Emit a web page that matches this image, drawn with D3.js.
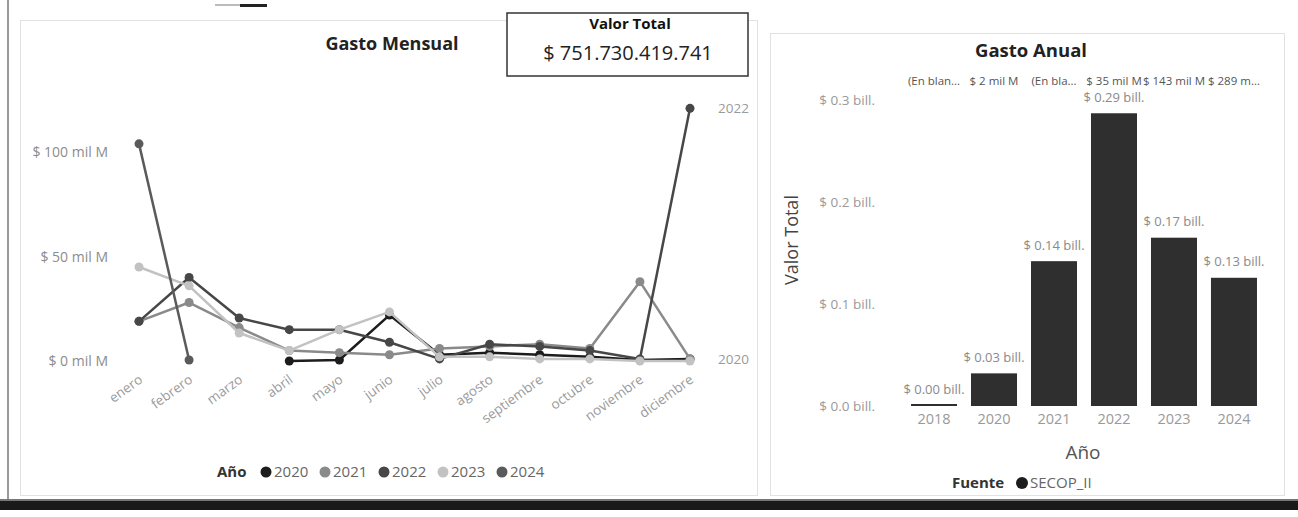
<!DOCTYPE html>
<html><head><meta charset="utf-8">
<script src="https://cdn.jsdelivr.net/npm/d3@7"></script>
<style>
html,body{margin:0;padding:0;background:#fff;}
svg{display:block;font-family:"Open Sans","Noto Sans",sans-serif;}
</style></head>
<body>
<svg id="c" width="1298" height="517"></svg>
<script>
// ---------- data ----------
const months = ["enero","febrero","marzo","abril","mayo","junio","julio","agosto","septiembre","octubre","noviembre","diciembre"];
const years = ["2020","2021","2022","2023","2024"];
const gasto2020 = [null,null,null,0,0.5,22,3,4,3,2,0.5,1];
const gasto2021 = [19,28,16,5,4,3,6,7,8,6,38,1];
const gasto2022 = [19,40,20.6,15,15,9,1,8,7,5,1,121];
const gasto2023 = [45,36,13.4,5,15,23.5,2,2,1,1,0,0];
const gasto2024 = [104,0.5,null,null,null,null,null,null,null,null,null,null];
const yearColors = ["#1c1c1c","#8a8a8a","#474747","#c2c2c2","#5a5a5a"];
const lineTicks = [0,50,100];
const endLabels = ["2022","2020"];

const annualYears = ["2018","2020","2021","2022","2023","2024"];
const annualValues = [0.0003,0.032,0.142,0.287,0.165,0.1257];
const annualLabels = ["$ 0.00 bill.","$ 0.03 bill.","$ 0.14 bill.","$ 0.29 bill.","$ 0.17 bill.","$ 0.13 bill."];
const topLabels = ["(En blan...","$ 2 mil M","(En bla...","$ 35 mil M","$ 143 mil M","$ 289 m..."];
const barTicks = [0,0.1,0.2,0.3];
const totalValue = "$ 751.730.419.741";

const series = [gasto2020,gasto2021,gasto2022,gasto2023,gasto2024];

const svg = d3.select("#c");

// page frame decorations
svg.append("rect").attr("x",7).attr("y",0).attr("width",2).attr("height",500).attr("fill","#9a9a9a");
svg.append("rect").attr("x",0).attr("y",501).attr("width",1298).attr("height",9).attr("fill","#1a1a1a");
svg.append("rect").attr("x",0).attr("y",499).attr("width",1298).attr("height",2).attr("fill","#777");
svg.append("rect").attr("x",215).attr("y",4).attr("width",25).attr("height",2).attr("fill","#bbb");
svg.append("rect").attr("x",240).attr("y",4).attr("width",27).attr("height",3).attr("fill","#222");

// panels
svg.append("rect").attr("x",20.5).attr("y",20.5).attr("width",737).attr("height",475)
  .attr("fill","none").attr("stroke","#e2e2e2");
svg.append("rect").attr("x",770.5).attr("y",33.5).attr("width",514).attr("height",462)
  .attr("fill","none").attr("stroke","#e2e2e2");

// ---------- line chart ----------
const x = d3.scalePoint().domain(months).range([139,690]);
const y = d3.scaleLinear().domain([0,125]).range([361,100]);

svg.append("text").attr("x",392).attr("y",50).attr("text-anchor","middle")
  .attr("font-size",18).attr("font-weight","bold").attr("fill","#222").text("Gasto Mensual");

const gy = svg.append("g").attr("transform","translate(108,0)")
  .call(d3.axisLeft(y).tickValues(lineTicks).tickSize(0).tickPadding(0).tickFormat(d=>"$ "+d+" mil M"));
gy.select(".domain").remove();
gy.selectAll("text").attr("font-size",14).attr("fill","#8c8c8c").attr("font-family","Open Sans");

const gx = svg.append("g").attr("transform","translate(0,376)")
  .call(d3.axisBottom(x).tickSize(0).tickPadding(0));
gx.select(".domain").remove();
gx.selectAll("text").attr("font-size",13.5).attr("fill","#9a9a9a").attr("font-family","Open Sans")
  .attr("text-anchor","end").attr("dy","0.5em").attr("transform","rotate(-36)");

const line = d3.line().defined(d=>d!=null).x((d,i)=>x(months[i])).y(d=>y(d));
series.forEach((s,k)=>{
  const pts = s.map((v,i)=>({v,i})).filter(p=>p.v!=null);
  svg.append("path").attr("d",line(s)).attr("fill","none")
    .attr("stroke",yearColors[k]).attr("stroke-width",2.5).attr("stroke-linejoin","round");
  svg.selectAll(null).data(pts).enter().append("circle")
    .attr("cx",p=>x(months[p.i])).attr("cy",p=>y(p.v)).attr("r",4.5).attr("fill",yearColors[k]);
});
endLabels.forEach(lbl=>{
  const k = years.indexOf(lbl);
  const s = series[k];
  let last = s.length-1; while(s[last]==null) last--;
  svg.append("text").attr("x",x(months[last])+28).attr("y",y(s[last])).attr("dy","0.35em")
    .attr("font-size",13.5).attr("fill","#9a9a9a").text(lbl);
});

// legend
const lg = svg.append("g").attr("transform","translate(217,472)");
lg.append("text").attr("x",0).attr("y",0).attr("dy","0.35em").attr("font-size",15).attr("font-weight","bold").attr("fill","#333").text("Año");
let lx = 49;
years.forEach((yr,k)=>{
  lg.append("circle").attr("cx",lx).attr("cy",0).attr("r",5.5).attr("fill",yearColors[k]);
  lg.append("text").attr("x",lx+8).attr("y",0).attr("dy","0.35em").attr("font-size",15).attr("fill","#666").text(yr);
  lx += 59;
});

// total card
svg.append("rect").attr("x",507).attr("y",13).attr("width",241).attr("height",63)
  .attr("fill","#fff").attr("stroke","#333").attr("stroke-width",1.5);
svg.append("text").attr("x",630).attr("y",24).attr("dy","0.35em").attr("text-anchor","middle")
  .attr("font-size",15).attr("font-weight","bold").attr("fill","#111").text("Valor Total");
svg.append("text").attr("x",628).attr("y",53).attr("dy","0.35em").attr("text-anchor","middle")
  .attr("font-size",20).attr("fill","#222").text(totalValue);

// ---------- bar chart ----------
const xb = d3.scaleBand().domain(annualYears).range([904,1264]).paddingInner(0.233).paddingOuter(0.117);
const yb = d3.scaleLinear().domain([0,0.3]).range([406,100]);

svg.append("text").attr("x",1031).attr("y",57).attr("text-anchor","middle")
  .attr("font-size",18.5).attr("font-weight","bold").attr("fill","#222").text("Gasto Anual");

const gyb = svg.append("g").attr("transform","translate(875,0)")
  .call(d3.axisLeft(yb).tickValues(barTicks).tickSize(0).tickPadding(0).tickFormat(d=>"$ "+d3.format(".1f")(d)+" bill."));
gyb.select(".domain").remove();
gyb.selectAll("text").attr("font-size",13.5).attr("fill","#999").attr("font-family","Open Sans");

const gxb = svg.append("g").attr("transform","translate(0,414)")
  .call(d3.axisBottom(xb).tickSize(0).tickPadding(0));
gxb.select(".domain").remove();
gxb.selectAll("text").attr("font-size",14.5).attr("fill","#9a9a9a").attr("font-family","Open Sans").attr("dy","0.7em");

svg.selectAll(null).data(annualValues).enter().append("rect")
  .attr("x",(d,i)=>xb(annualYears[i])).attr("width",xb.bandwidth())
  .attr("y",d=>Math.min(yb(d),yb(0)-2)).attr("height",d=>Math.max(yb(0)-yb(d),2))
  .attr("fill","#2f2f2f");

svg.selectAll(null).data(annualValues).enter().append("text")
  .attr("x",(d,i)=>xb(annualYears[i])+xb.bandwidth()/2).attr("y",d=>yb(d)-16).attr("dy","0.35em")
  .attr("text-anchor","middle").attr("font-size",13).attr("fill","#8a8a8a")
  .text((d,i)=>annualLabels[i]);

svg.selectAll(null).data(topLabels).enter().append("text")
  .attr("x",(d,i)=>xb(annualYears[i])+xb.bandwidth()/2).attr("y",81).attr("dy","0.35em")
  .attr("text-anchor","middle").attr("font-size",11.5).attr("fill","#555")
  .text(d=>d);

svg.append("text").attr("transform","translate(798,240) rotate(-90)").attr("text-anchor","middle")
  .attr("font-size",18).attr("fill","#444").text("Valor Total");
svg.append("text").attr("x",1083).attr("y",452).attr("dy","0.35em").attr("text-anchor","middle")
  .attr("font-size",19).attr("fill","#555").text("Año");

const lg2 = svg.append("g").attr("transform","translate(952,483)");
lg2.append("text").attr("x",0).attr("y",0).attr("dy","0.35em").attr("font-size",15).attr("font-weight","bold").attr("fill","#333").text("Fuente");
lg2.append("circle").attr("cx",70).attr("cy",0).attr("r",6).attr("fill","#1c1c1c");
lg2.append("text").attr("x",78).attr("y",0).attr("dy","0.35em").attr("font-size",15).attr("fill","#666").text("SECOP_II");
</script>
</body></html>
